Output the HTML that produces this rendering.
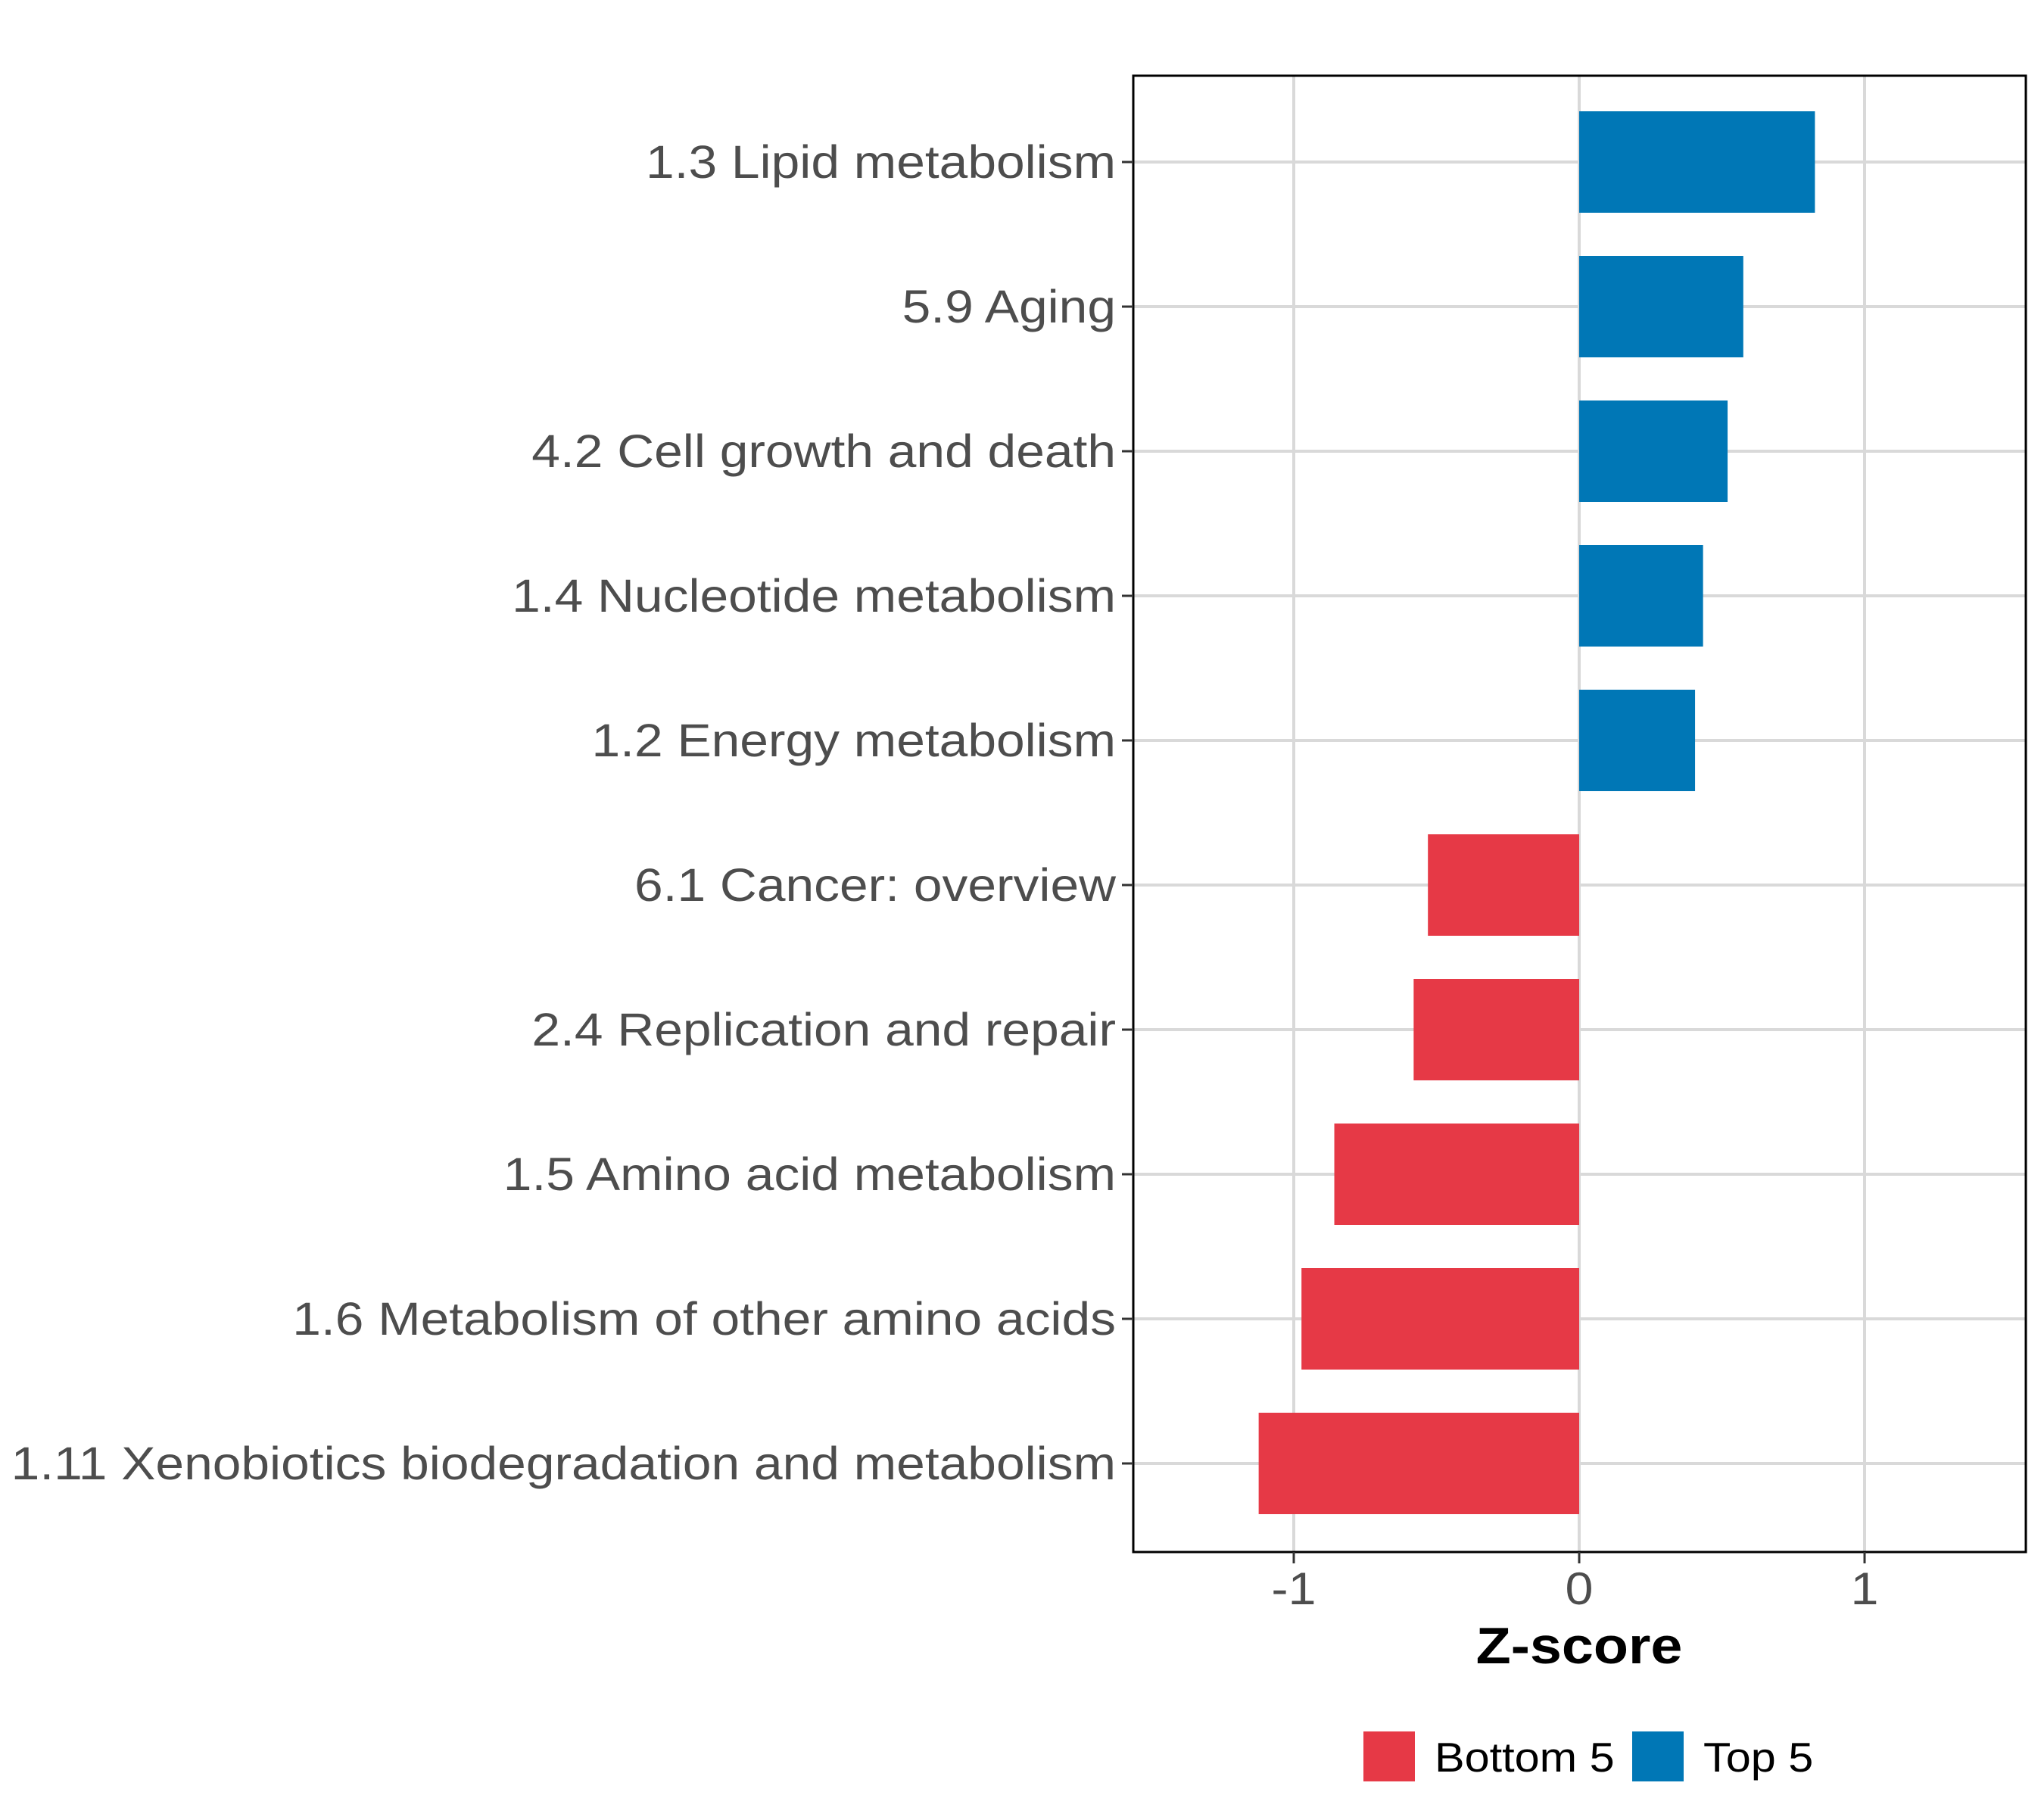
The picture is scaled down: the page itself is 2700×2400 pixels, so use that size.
<!DOCTYPE html>
<html><head><meta charset="utf-8"><style>
body{margin:0;background:#fff}
svg{display:block}
text{font-family:"Liberation Sans",Arial,sans-serif}
</style></head><body>
<svg id="chart" width="2700" height="2400" viewBox="0 0 2700 2400" xmlns="http://www.w3.org/2000/svg">
<g id="grid"></g>
<g id="bars"></g>
<rect x="1497" y="100" width="1179" height="1950" fill="none" stroke="#000" stroke-width="3"/>
<g id="ylabels"></g>
<g id="xticks"></g>
<text id="xtitle" x="2086" y="2197" font-size="68" font-weight="bold" text-anchor="middle" fill="#000">Z-score</text>
<g>
<rect x="1801" y="2287" width="68" height="66" fill="#e63946"/>
<text class="st" x="1895" y="2340" font-size="55" fill="#000">Bottom 5</text>
<rect x="2156" y="2287" width="68" height="66" fill="#0077b6"/>
<text class="st" x="2250" y="2340" font-size="55" fill="#000">Top 5</text>
</g>
</svg>
<script>
const categories=["1.3 Lipid metabolism","5.9 Aging","4.2 Cell growth and death","1.4 Nucleotide metabolism","1.2 Energy metabolism","6.1 Cancer: overview","2.4 Replication and repair","1.5 Amino acid metabolism","1.6 Metabolism of other amino acids","1.11 Xenobiotics biodegradation and metabolism"];
const values=[0.826,0.575,0.52,0.434,0.406,-0.53,-0.58,-0.858,-0.973,-1.123];
const groups=["Top 5","Top 5","Top 5","Top 5","Top 5","Bottom 5","Bottom 5","Bottom 5","Bottom 5","Bottom 5"];
const xTicks=[-1,0,1];
const xTickLabels=["-1","0","1"];
const NS="http://www.w3.org/2000/svg";
const X0=2086,UNIT=377,PL=1497,PR=2676,PT=100,PB=2050;
function xs(v){return X0+v*UNIT;}
function ys(i){return 214+i*191;}
const colors={"Top 5":"#0077b6","Bottom 5":"#e63946"};
function mk(tag,attrs,parent){const e=document.createElementNS(NS,tag);for(const k in attrs)e.setAttribute(k,attrs[k]);parent.appendChild(e);return e;}
function stretch(t,f){const w=t.getComputedTextLength();t.setAttribute('textLength',(w*(f||1.11)).toFixed(1));t.setAttribute('lengthAdjust','spacingAndGlyphs');}
const grid=document.getElementById('grid'),bars=document.getElementById('bars'),yl=document.getElementById('ylabels'),xt=document.getElementById('xticks');
xTicks.forEach((t,j)=>{
 const l=mk('line',{x1:xs(t),x2:xs(t),y1:PT,y2:PB,stroke:'#d9d9d9','stroke-width':4},grid);
 
 
 const tk=mk('line',{x1:xs(t),x2:xs(t),y1:PB,y2:PB+15,stroke:'#333','stroke-width':3},xt);
 
 
 const tx=mk('text',{x:xs(t),y:2119,'font-size':60,'text-anchor':'middle',fill:'#4d4d4d'},xt);
 tx.textContent=xTickLabels[j];
 
 
 stretch(tx);
});
categories.forEach((c,i)=>{
 const y=ys(i);
 const g=mk('line',{x1:PL,x2:PR,y1:y,y2:y,stroke:'#d9d9d9','stroke-width':4},grid);
 
 
 const v=values[i];
 const r=mk('rect',{x:Math.min(xs(0),xs(v)),y:y-67,width:Math.abs(xs(v)-xs(0)),height:134,fill:colors[groups[i]]},bars);
 
 
 const tk=mk('line',{x1:PL-15,x2:PL,y1:y,y2:y,stroke:'#333','stroke-width':3},yl);
 
 
 const t=mk('text',{x:1474,y:y+21,'font-size':61,'text-anchor':'end',fill:'#4d4d4d'},yl);
 t.textContent=c;
 
 
 stretch(t);
});
document.querySelectorAll('.st').forEach(t=>stretch(t,1.08));
stretch(document.getElementById('xtitle'));
</script>
</body></html>
